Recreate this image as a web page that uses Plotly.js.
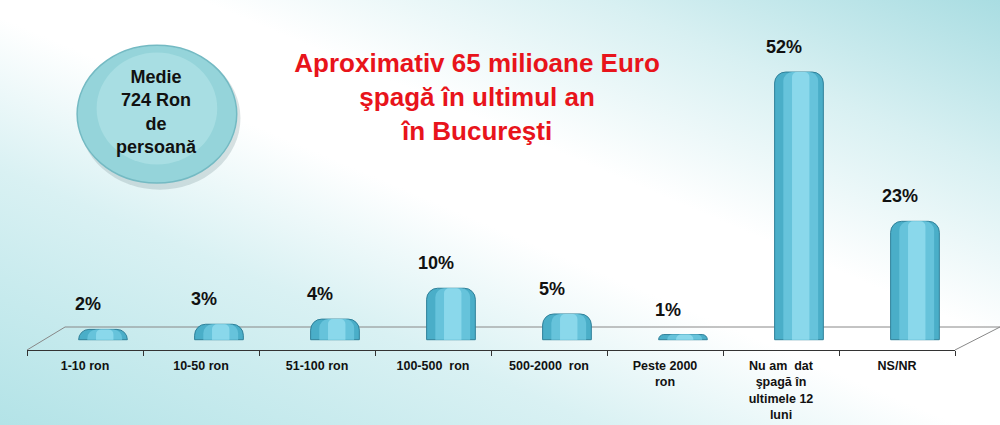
<!DOCTYPE html>
<html>
<head>
<meta charset="utf-8">
<script src="https://cdn.plot.ly/plotly-3.0.1.min.js"></script>
<style>
  html, body { margin: 0; padding: 0; }
  body {
    width: 1000px; height: 425px; overflow: hidden;
    background: linear-gradient(to top right, #b3e3e7 0%, #d9f1f3 30%, #ffffff 48%, #ffffff 60%, #d8f0f2 80%, #a9dde2 100%);
  }
</style>
</head>
<body>
<div id="chart" style="width:1000px;height:425px;"></div>
<script>
var categories = ['1-10 ron', '10-50 ron', '51-100 ron', '100-500  ron', '500-2000  ron',
                  'Peste 2000<br>ron', 'Nu am  dat<br>şpagă în<br>ultimele 12<br>luni', 'NS/NR'];
var values = [2, 3, 4, 10, 5, 1, 52, 23];
var valueLabels = values.map(function (v) { return v + '%'; });

// cylinder body
var trace1 = {
  x: categories,
  y: values,
  type: 'bar',
  width: 0.42,
  offset: -0.055,
  marker: {
    color: '#4aaec8',
    line: { color: '#2f8099', width: 1 },
    cornerradius: 11
  },
  hoverinfo: 'skip'
};

// shading layers
var trace2 = {
  x: categories,
  y: values,
  type: 'bar',
  width: 0.3,
  offset: 0.02,
  marker: { color: '#66c3db', line: { width: 0 }, cornerradius: 9 },
  hoverinfo: 'skip'
};

var trace3 = {
  x: categories,
  y: values,
  type: 'bar',
  width: 0.15,
  offset: 0.095,
  marker: { color: '#8ad8eb', line: { width: 0 }, cornerradius: 5 },
  hoverinfo: 'skip'
};

var annotations = categories.map(function (c, i) {
  return {
    x: c, y: values[i], xref: 'x', yref: 'y',
    text: '<b>' + valueLabels[i] + '</b>',
    showarrow: false, yanchor: 'bottom', yshift: 13, xshift: 3,
    font: { family: 'Liberation Sans, Arial, sans-serif', size: 18, color: '#111' }
  };
});

// bubble text
annotations.push({
  xref: 'paper', yref: 'paper', x: 0.1396, y: 0.679,
  xanchor: 'center', yanchor: 'middle',
  text: '<b>Medie<br>724 Ron<br>de<br>persoană</b>',
  showarrow: false,
  font: { family: 'Liberation Sans, Arial, sans-serif', size: 18, color: '#111' }
});

var layout = {
  width: 1000,
  height: 425,
  margin: { l: 27, r: 45, t: 0, b: 75 },
  paper_bgcolor: 'rgba(0,0,0,0)',
  plot_bgcolor: 'rgba(0,0,0,0)',
  showlegend: false,
  barmode: 'overlay',
  title: {
    text: '<b>Aproximativ 65 milioane Euro<br>şpagă în ultimul an<br>în Bucureşti</b>',
    x: 0.485, xanchor: 'center', xref: 'paper',
    y: 0.83, yanchor: 'top', yref: 'container',
    font: { family: 'Liberation Sans, Arial, sans-serif', size: 26, color: '#e8141b' }
  },
  xaxis: {
    type: 'category',
    range: [-0.5, 7.5],
    showline: true, linecolor: '#333', linewidth: 1,
    ticks: 'outside', tickson: 'boundaries', ticklen: 5, tickcolor: '#333',
    ticklabelstandoff: 4,
    showgrid: false,
    tickfont: { family: 'Liberation Sans Narrow, Arial Narrow, sans-serif', size: 12.5, color: '#111', weight: 'bold' }
  },
  yaxis: {
    range: [-2, 66],
    visible: false,
    showgrid: false, zeroline: false
  },
  shapes: [
    // bubble shadow
    { type: 'circle', xref: 'paper', yref: 'paper', layer: 'below',
      x0: 0.056, x1: 0.230, y0: 0.458, y1: 0.866,
      fillcolor: 'rgba(110,140,145,0.25)', line: { width: 0 } },
    // bubble
    { type: 'circle', xref: 'paper', yref: 'paper', layer: 'below',
      x0: 0.054, x1: 0.226, y0: 0.477, y1: 0.871,
      fillcolor: '#95d4da', line: { color: '#74bac3', width: 1.5 } },
    // inner light
    { type: 'circle', xref: 'paper', yref: 'paper', layer: 'below',
      x0: 0.075, x1: 0.205, y0: 0.53, y1: 0.85,
      fillcolor: 'rgba(190,235,238,0.45)', line: { width: 0 } },
    // floor
    { type: 'path', xref: 'paper', yref: 'paper', layer: 'below',
      path: 'M 0,0 L 0.041,0.0657 L 1.0485,0.0657 L 1,0',
      line: { color: '#888', width: 1 } }
  ],
  annotations: annotations
};

Plotly.newPlot('chart', [trace1, trace2, trace3], layout, { displayModeBar: false, staticPlot: true });
</script>
</body>
</html>
